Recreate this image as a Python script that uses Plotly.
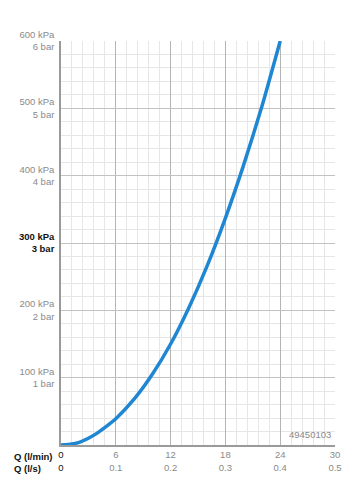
import plotly.graph_objects as go

# Data
flow_lmin = [0, 1, 2, 3, 4, 5, 6, 8, 10, 12, 14, 16, 18, 20, 22, 24]
pressure_kpa = [0, 1, 4, 10, 18, 28, 39, 68, 105, 150, 204, 266, 337, 416, 503, 600]

x_tick_vals = [0, 6, 12, 18, 24, 30]
x_tick_lmin = ["0", "6", "12", "18", "24", "30"]
x_tick_ls = ["0", "0.1", "0.2", "0.3", "0.4", "0.5"]

y_tick_vals = [100, 200, 300, 400, 500, 600]
y_tick_kpa = ["100 kPa", "200 kPa", "300 kPa", "400 kPa", "500 kPa", "600 kPa"]
y_tick_bar = ["1 bar", "2 bar", "3 bar", "4 bar", "5 bar", "6 bar"]

GRAY = "#8a8a8a"
BLACK = "#111111"
BLUE = "#1f87d2"
FONT = "Liberation Sans, Arial, sans-serif"
FS = 9.5

x_ticktext = []
for v, a, b in zip(x_tick_vals, x_tick_lmin, x_tick_ls):
    if v == 0:
        x_ticktext.append(f"<span style='color:{BLACK}'>{a}<br>{b}</span>")
    else:
        x_ticktext.append(f"{a}<br>{b}")

y_ticktext = []
for v, a, b in zip(y_tick_vals, y_tick_kpa, y_tick_bar):
    if v == 300:
        y_ticktext.append(f"<span style='color:{BLACK}'><b>{a}<br>{b}</b></span>")
    else:
        y_ticktext.append(f"{a}<br>{b}")

fig = go.Figure()
fig.add_trace(go.Scatter(
    x=flow_lmin, y=pressure_kpa, mode="lines",
    line=dict(color=BLUE, width=3.5, shape="spline", smoothing=0.6),
    hoverinfo="skip", showlegend=False,
))

fig.update_layout(
    width=352, height=495,
    margin=dict(l=61, r=17, t=41, b=50, autoexpand=False),
    paper_bgcolor="white", plot_bgcolor="white",
    font=dict(family=FONT, size=FS, color=GRAY),
    xaxis=dict(
        range=[0, 30], tickmode="array", tickvals=x_tick_vals, ticktext=x_ticktext,
        showgrid=True, gridcolor="#b4b4b4", gridwidth=1,
        minor=dict(dtick=1.2, showgrid=True, gridcolor="#e6e6e6", gridwidth=1),
        showline=True, linecolor="#9a9a9a", linewidth=1.5,
        zeroline=False, ticks="", ticklen=0, fixedrange=True, automargin=False,
        tickfont=dict(size=FS, color=GRAY),
    ),
    yaxis=dict(
        range=[0, 600], tickmode="array", tickvals=y_tick_vals, ticktext=y_ticktext,
        showgrid=True, gridcolor="#c2c2c2", gridwidth=1,
        minor=dict(dtick=20, showgrid=True, gridcolor="#e6e6e6", gridwidth=1),
        showline=True, linecolor="#9a9a9a", linewidth=1.5,
        zeroline=False, ticks="", ticklen=0, fixedrange=True, automargin=False,
        ticklabelstandoff=3,
        tickfont=dict(size=FS, color=GRAY),
    ),
    annotations=[
        dict(text="<b>Q (l/min)<br>Q (l/s)</b>", xref="paper", yref="paper",
             x=0, y=0, xshift=-49, yshift=-4, xanchor="left", yanchor="top",
             align="left", showarrow=False,
             font=dict(size=FS, color=BLACK, family=FONT)),
        dict(text="49450103", xref="paper", yref="paper", x=1, y=0,
             xshift=-2, yshift=3, xanchor="right", yanchor="bottom",
             showarrow=False, font=dict(size=FS, color=GRAY)),
    ],
)

fig.write_html("out.html")
